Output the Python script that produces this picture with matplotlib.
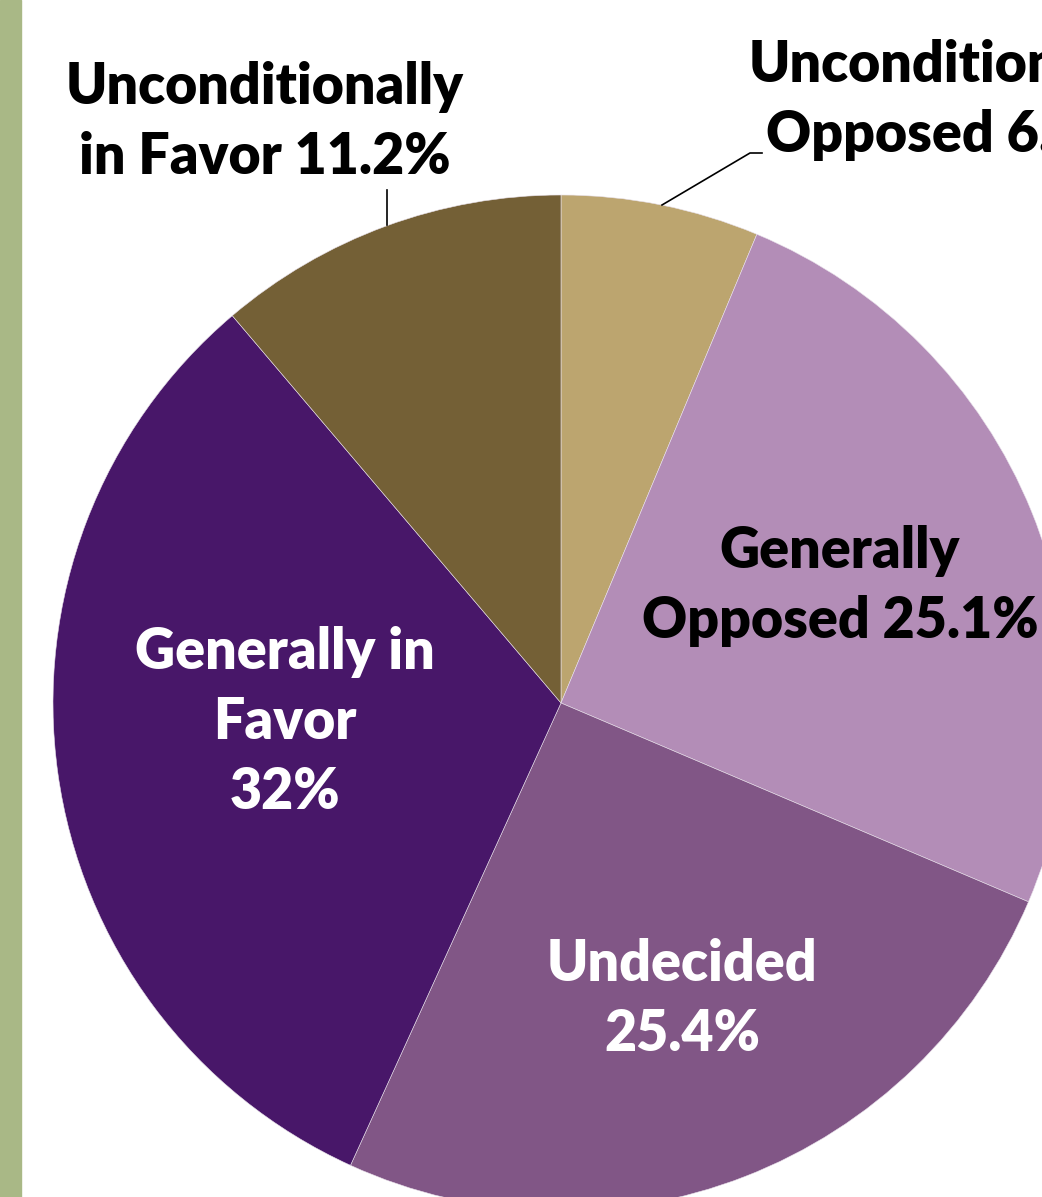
import matplotlib
matplotlib.use("Agg")
import matplotlib.pyplot as plt
from matplotlib.patches import Rectangle

categories = ["Unconditionally Opposed", "Generally Opposed", "Undecided",
              "Generally in Favor", "Unconditionally in Favor"]
values = [6.3, 25.1, 25.4, 32.0, 11.2]
colors = ["#BCA56F", "#B38DB7", "#815686", "#481769", "#746036"]
label_texts = ["Unconditionally\nOpposed 6.3%", "Generally\nOpposed 25.1%",
               "Undecided\n25.4%", "Generally in\nFavor\n32%",
               "Unconditionally\nin Favor 11.2%"]
label_colors = ["black", "black", "white", "white", "black"]

W, H = 1042, 1197
fig = plt.figure(figsize=(W / 100, H / 100), dpi=100)
ax = fig.add_axes([0, 0, 1, 1])

cx, cy, r = 561, H - 703, 508
ax.pie(values, colors=colors, startangle=90, counterclock=False,
       center=(cx, cy), radius=r, frame=True,
       wedgeprops=dict(linewidth=0.4, edgecolor="#e8e0ea"))
ax.set_xlim(0, W)
ax.set_ylim(0, H)
ax.set_aspect("equal")
ax.axis("off")

# left decorative bar
ax.add_patch(Rectangle((0, 0), 21, H, color="#A9B886", zorder=5))

font = dict(family=["Lato", "DejaVu Sans"], fontweight="heavy", fontsize=40,
            ha="center", va="center", linespacing=1.42)
positions = [(948, H - 100), (840, H - 586), (682, H - 999),
             (285, H - 722), (265, H - 122)]
for txt, (x, y), c in zip(label_texts, positions, label_colors):
    ax.text(x, y, txt, color=c, zorder=6, **font)

# leader lines
ax.plot([662, 750, 762], [H - 205, H - 153, H - 153], color="black", lw=1.2, zorder=6)
ax.plot([387, 387], [H - 190, H - 225], color="black", lw=1.2, zorder=6)

fig.savefig("out.png", dpi=100)
